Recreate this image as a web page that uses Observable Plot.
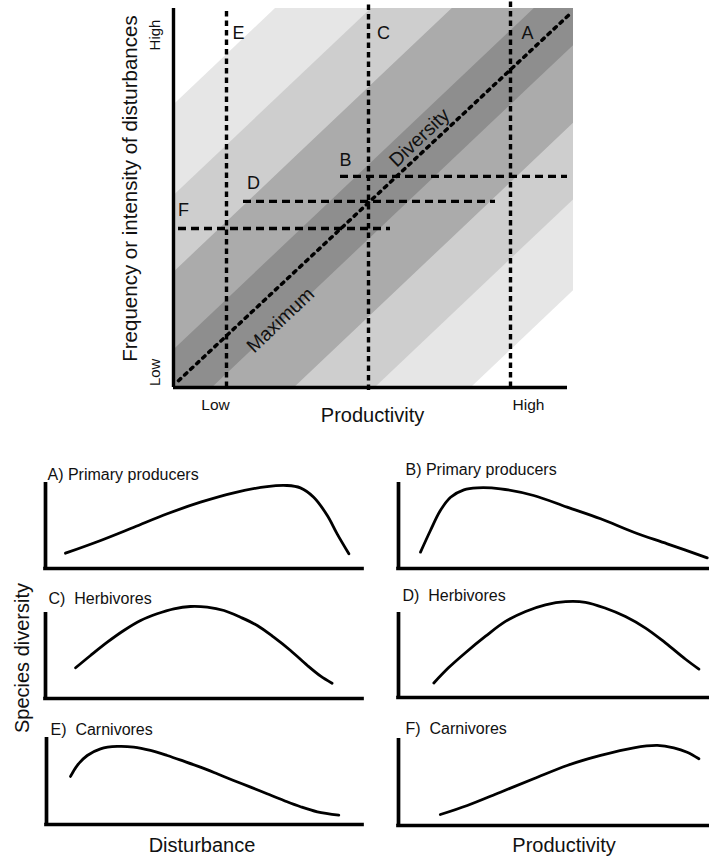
<!DOCTYPE html>
<html><head><meta charset="utf-8">
<script src="https://cdn.jsdelivr.net/npm/d3@7"></script>
<script src="https://cdn.jsdelivr.net/npm/@observablehq/plot@0.6"></script>
<style>
body{margin:0;background:#fff;}
#chart{position:relative;width:709px;height:856px;overflow:hidden;font-family:"Liberation Sans",Arial,Helvetica,sans-serif;color:#000;}
#chart svg{position:absolute;overflow:visible;}
.lbl{position:absolute;white-space:nowrap;transform:translate(-50%,-50%);font-size:20px;color:#111;}
</style></head><body><div id="chart"></div>
<script>
// ---------- DATA ----------
// Top panel: productivity (x, 0..1) vs disturbance (y, 0..1)
const bandHalfWidths = [0.745, 0.505, 0.303, 0.098];          // diversity bands around the diagonal
const bandNames = ["low", "medium", "high", "maximum"];
const verticalCuts = [                                       // constant productivity transects
  {label: "E", x: 0.1325, y1: 0, y2: 1},
  {label: "C", x: 0.4875, y1: -0.008, y2: 1.02},
  {label: "A", x: 0.8425, y1: 0, y2: 1.02}
];
const horizontalCuts = [                                     // constant disturbance transects
  {label: "B", y: 0.557, x1: 0.4175, x2: 0.985},
  {label: "D", y: 0.491, x1: 0.175, x2: 0.805},
  {label: "F", y: 0.4195, x1: 0.0125, x2: 0.5425}
];
const maxDiversityLine = [{x: 0.0125, y: 0.018}, {x: 0.9925, y: 0.987}];
const xTickLabels = ["Low", "High"];
const xTickValues = [0.105, 0.8875];
const yTickLabels = ["Low", "High"];
const yTickValues = [0.04, 0.93];

// Lower panels: species diversity (0..100) along gradient (0..100)
const curveA = [[6.3,17.8],[17.4,32.6],[27.9,48.0],[38.4,63.6],[48.9,77.1],[59.4,88.0],[69.9,95.3],[76.2,96.5],[80.4,93.8],[84.6,82.9],[88.9,61.6],[92.0,40.3],[95.7,17.1]];
const curveB = [[7.1,19.0],[10.3,44.2],[13.5,67.4],[16.8,82.9],[21.1,91.5],[25.4,93.8],[32.9,92.7],[43.6,84.9],[54.4,71.3],[65.2,57.8],[75.9,42.2],[86.7,28.7],[99.6,12.4]];
const curveC = [[9.5,35.7],[14.2,50.0],[19.5,65.5],[24.7,79.1],[30.0,90.7],[35.2,98.5],[40.5,104.3],[45.7,107.0],[51.0,106.2],[56.3,102.3],[61.5,94.5],[66.8,84.9],[72.0,71.3],[77.3,55.8],[82.6,38.4],[86.8,26.0],[90.4,17.8]];
const curveD = [[11.4,17.1],[16.2,35.2],[21.6,52.7],[28.1,72.1],[34.5,89.5],[41.0,101.2],[47.4,109.0],[53.9,112.8],[60.3,112.0],[66.8,105.0],[73.2,95.3],[79.7,81.7],[86.1,64.3],[92.6,45.0],[96.9,33.4]];
const curveE = [[7.6,55.2],[9.7,67.8],[12.9,79.3],[17.1,87.0],[22.4,89.7],[27.6,88.9],[32.9,85.1],[38.2,79.3],[43.4,72.8],[48.7,65.9],[54.0,58.3],[59.2,50.6],[64.6,42.9],[69.8,35.3],[75.1,27.6],[80.4,20.4],[85.7,14.6],[92.5,10.8]];
const curveF = [[13.5,12.6],[22.2,23.0],[32.9,38.3],[43.6,53.7],[54.4,69.0],[65.2,80.5],[75.9,89.3],[83.5,92.0],[88.8,89.3],[93.1,84.3],[96.9,76.7]];
const panelTitles = ["A) Primary producers", "B) Primary producers", "C)  Herbivores", "D)  Herbivores", "E)  Carnivores", "F)  Carnivores"];
const panelCurves = [curveA, curveB, curveC, curveD, curveE, curveF];

// ---------- LAYOUT / STYLE ----------
const FONT = '"Liberation Sans", Arial, Helvetica, sans-serif';
const bandColors = ["#e6e6e6", "#cecece", "#ababab", "#8e8e8e"];
const cutLabelPos = {E: [0.1625, 0.934], C: [0.525, 0.934], A: [0.885, 0.934], B: [0.43, 0.599], D: [0.2, 0.538], F: [0.025, 0.467]};
const panelBoxes = [
  {left: 45, top: 482, width: 317, height: 86, ldx: 2, ldy: 8},
  {left: 398, top: 482, width: 310, height: 86, ldx: 7, ldy: 13},
  {left: 45, top: 612, width: 317, height: 86, ldx: 3, ldy: 14},
  {left: 398, top: 612, width: 310, height: 85, ldx: 4, ldy: 17},
  {left: 46, top: 737, width: 316, height: 87, ldx: 4, ldy: 8},
  {left: 398, top: 738, width: 310, height: 87, ldx: 7, ldy: 10}
];

const chart = document.getElementById("chart");

// ---------- TOP PANEL ----------
function bandPolygon(o) {
  const xs = [0, Math.min(o, 1 - o), Math.max(o, 1 - o), 1];
  return xs.map(x => ({x, y1: Math.max(0, x - o), y2: Math.min(1, x + o)}));
}
const topMarks = [];
bandHalfWidths.forEach((o, i) => {
  topMarks.push(Plot.areaY(bandPolygon(o), {x: "x", y1: "y1", y2: "y2", fill: bandColors[i], curve: "linear"}));
});
topMarks.push(
  Plot.line(maxDiversityLine, {x: "x", y: "y", stroke: "#000", strokeWidth: 3.5, strokeDasharray: "3,5.3"}),
  Plot.ruleX(verticalCuts, {x: "x", y1: "y1", y2: "y2", stroke: "#000", strokeWidth: 3.4, strokeDasharray: "5.5,4"}),
  Plot.ruleY(horizontalCuts, {y: "y", x1: "x1", x2: "x2", stroke: "#000", strokeWidth: 3.4, strokeDasharray: "8,5"}),
  Plot.ruleX([0], {y1: 0, y2: 1, stroke: "#000", strokeWidth: 3.4}),
  Plot.ruleY([0], {x1: 0, x2: 0.985, stroke: "#000", strokeWidth: 3.4}),
  Plot.text([...verticalCuts, ...horizontalCuts], {x: d => cutLabelPos[d.label][0], y: d => cutLabelPos[d.label][1], text: "label", fontSize: 18, fontFamily: FONT, fill: "#111"}),
  Plot.text(["Diversity"], {x: 0.615, y: 0.659, text: d => d, rotate: -43.5, fontSize: 19.5, fontFamily: FONT, fill: "#111"}),
  Plot.text(["Maximum"], {x: 0.2675, y: 0.178, text: d => d, rotate: -43.5, fontSize: 19.5, fontFamily: FONT, fill: "#111"}),
  Plot.text(xTickLabels, {x: (d, i) => xTickValues[i], y: -0.047, text: d => d, fontSize: 15.5, fontFamily: FONT, fill: "#111"}),
  Plot.text(yTickLabels, {x: -0.045, y: (d, i) => yTickValues[i], text: d => d, rotate: -90, fontSize: 15, fontFamily: FONT, fill: "#111"}),
  Plot.text(["Productivity"], {x: 0.4975, y: -0.075, text: d => d, fontSize: 20, fontFamily: FONT, fill: "#111"}),
  Plot.text(["Frequency or intensity of disturbances"], {x: -0.1075, y: 0.525, text: d => d, rotate: -90, fontSize: 20.5, fontFamily: FONT, fill: "#111"})
);
const topPlot = Plot.plot({
  width: 709, height: 440,
  marginLeft: 173, marginRight: 136, marginTop: 8, marginBottom: 53,
  x: {domain: [0, 1], axis: null},
  y: {domain: [0, 1], axis: null},
  style: {background: "transparent", fontFamily: FONT, overflow: "visible"},
  marks: topMarks
});
topPlot.style.left = "0px";
topPlot.style.top = "0px";
chart.appendChild(topPlot);

// ---------- LOWER PANELS ----------
const mL = 10, mR = 4, mT = 28, mB = 8;
panelBoxes.forEach((b, i) => {
  const pts = panelCurves[i].map(([x, y]) => ({x, y}));
  const p = Plot.plot({
    width: b.width + mL + mR, height: b.height + mT + mB,
    marginLeft: mL, marginRight: mR, marginTop: mT, marginBottom: mB,
    x: {domain: [0, 100], axis: null},
    y: {domain: [0, 100], axis: null},
    style: {background: "transparent", fontFamily: FONT, overflow: "visible"},
    marks: [
      Plot.ruleX([0], {y1: 0, y2: 100, stroke: "#000", strokeWidth: 3.7}),
      Plot.ruleY([0], {x1: 0, x2: 100, stroke: "#000", strokeWidth: 3.7, strokeLinecap: "square"}),
      Plot.line(pts, {x: "x", y: "y", curve: "catmull-rom", stroke: "#000", strokeWidth: 2.8}),
      Plot.text([panelTitles[i]], {x: b.ldx / b.width * 100, y: 100 + b.ldy / b.height * 100, text: d => d, textAnchor: "start", fontSize: 16, fontFamily: FONT, fill: "#111"})
    ]
  });
  p.style.left = (b.left - mL) + "px";
  p.style.top = (b.top - mT) + "px";
  chart.appendChild(p);
});

// ---------- SHARED AXIS TITLES ----------
const titles = [
  {text: "Species diversity", x: 22, y: 658, rot: -90},
  {text: "Disturbance", x: 202, y: 845, rot: 0},
  {text: "Productivity", x: 564, y: 845, rot: 0}
];
titles.forEach(t => {
  const d = document.createElement("div");
  d.className = "lbl";
  d.textContent = t.text;
  d.style.left = t.x + "px";
  d.style.top = t.y + "px";
  d.style.transform = `translate(-50%,-50%) rotate(${t.rot}deg)`;
  chart.appendChild(d);
});
</script>
</body></html>
